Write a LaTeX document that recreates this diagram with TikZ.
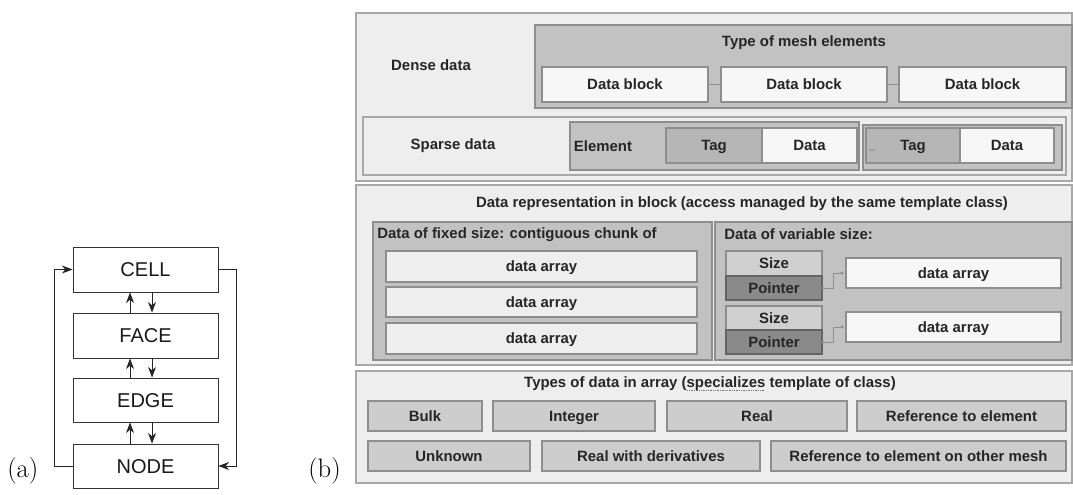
\documentclass[tikz,border=0pt]{standalone}
\usepackage{fontspec}
\newfontfamily\arial{Liberation Sans}
\usetikzlibrary{arrows.meta,fit}
\definecolor{panelbg}{HTML}{EEEEEE}
\definecolor{panelline}{HTML}{A8A8A8}
\definecolor{midgray}{HTML}{C2C2C2}
\definecolor{lightbox}{HTML}{F7F7F7}
\definecolor{taggray}{HTML}{B6B6B6}
\definecolor{sizegray}{HTML}{D0D0D0}
\definecolor{ptrgray}{HTML}{8A8A8A}
\definecolor{typegray}{HTML}{CDCDCD}
\definecolor{boxline}{HTML}{8E8E8E}
\newsavebox{\specbox}
\newcommand{\specword}{\sbox{\specbox}{specializes}\leavevmode\rlap{\usebox{\specbox}}\raisebox{-2.2pt}{\color{black!55}\leaders\hbox to 1.3pt{\hss\rule{0.6pt}{0.6pt}\hss}\hskip\wd\specbox}}
\begin{document}
\begin{tikzpicture}[x=0.75pt,y=-0.75pt,
  afont/.style={font=\arial\fontsize{15}{17}\selectfont, text=black!90, text height=10.8pt, text depth=0pt, inner sep=0},
  abox/.style={draw=black!80, line width=0.6pt, inner sep=0, label={[afont]center:#1}},
  arr/.style={line width=0.7pt, black!85, -{Stealth[length=8pt,width=6pt,inset=2.5pt]}},
  bfont/.style={font=\arial\bfseries\fontsize{11.2}{13}\selectfont, text=black!85},
  lfont/.style={bfont, text height=8.1pt, text depth=0pt, inner sep=0},
  txt/.style={label={[lfont]center:#1}},
  panel/.style={draw=panelline, fill=panelbg, line width=0.9pt, inner sep=0},
  graybox/.style={draw=boxline, fill=midgray, line width=0.9pt, inner sep=0},
  whitebox/.style={draw=boxline, fill=lightbox, line width=0.9pt, inner sep=0, txt=#1},
  tagbox/.style={draw=boxline, fill=taggray, line width=0.9pt, inner sep=0, txt=#1},
  arraybox/.style={draw=boxline, fill=panelbg, line width=0.9pt, inner sep=0, txt=#1},
  sizebox/.style={draw=boxline, fill=sizegray, line width=0.9pt, inner sep=0, txt=#1},
  ptrbox/.style={draw=boxline!70!black, fill=ptrgray, line width=0.9pt, inner sep=0, txt=#1},
  typebox/.style={draw=boxline, fill=typegray, line width=0.9pt, inner sep=0, txt=#1},
  conn/.style={draw=boxline, line width=0.7pt},
  lbl/.style={font=\fontsize{20}{24}\selectfont, inner sep=0}
]
\useasboundingbox (0,0) rectangle (1073,495);

% ---------------- panel (a) ----------------
\node[abox=CELL, fit={(73,247)(218,292)}] (cell) {};
\node[abox=FACE, fit={(73,313)(218,358)}] (face) {};
\node[abox=EDGE, fit={(73,378)(218,422)}] (edge) {};
\node[abox=NODE, fit={(73,444)(218,488)}] (nd) {};

\draw[arr] ([xshift=-11.6pt]face.north) -- ([xshift=-11.6pt]cell.south);
\draw[arr] ([xshift=4.9pt]cell.south) -- ([xshift=4.9pt]face.north);
\draw[arr] ([xshift=-11.6pt]edge.north) -- ([xshift=-11.6pt]face.south);
\draw[arr] ([xshift=4.9pt]face.south) -- ([xshift=4.9pt]edge.north);
\draw[arr] ([xshift=-11.6pt]nd.north) -- ([xshift=-11.6pt]edge.south);
\draw[arr] ([xshift=4.9pt]edge.south) -- ([xshift=4.9pt]nd.north);
\draw[arr] (nd.west) -- ++(-18,0) |- (cell.west);
\draw[arr] (cell.east) -- ++(18,0) |- (nd.east);

\node[lbl, anchor=base west] (la) at (7,477) {(a)};
\node[lbl, anchor=base west] (lb) at (308,477) {(b)};

% ---------------- panel (b): dense / sparse ----------------
\node[panel, fit={(356,13)(1072,181)}] (top) {};
\node[bfont] (dense) at (431,65) {Dense data};
\node[graybox, fit={(535,25)(1072,108)}] (types) {};
\node[bfont] (typestitle) at (804,43) {Type of mesh elements};
\node[whitebox=Data block, fit={(542,67)(708,102)}] (db1) {};
\node[whitebox=Data block, fit={(721,67)(887,102)}] (db2) {};
\node[whitebox=Data block, fit={(899,67)(1066,102)}] (db3) {};
\draw[conn] (db1) -- (db2);
\draw[conn] (db2) -- (db3);

\node[panel, fit={(363,117)(1066,175)}] (sparse) {};
\node[bfont] (sparset) at (453,146) {Sparse data};
\node[graybox, fit={(570,122)(859,170)}] (grp1) {};
\node[lfont] (elem) at (603,146) {Element};
\node[tagbox=Tag, fit={(666,128)(762,163)}] (tag1) {};
\node[whitebox=Data, fit={(762,128)(857,163)}] (dat1) {};
\node[graybox, fit={(863,125)(1062,170)}] (grp2) {};
\node[tagbox=Tag, fit={(866,128)(960,163)}] (tag2) {};
\node[whitebox=Data, fit={(960,128)(1054,163)}] (dat2) {};
\draw[boxline!80, line width=0.8pt] (869,150) -- (875,150);

% ---------------- data representation ----------------
\node[panel, fit={(356,185)(1072,365)}] (repr) {};
\node[bfont] (reprt) at (742,204) {Data representation in block (access managed by the same template class)};

\node[graybox, fit={(373,222)(712,360)}] (fixed) {};
\node[bfont, anchor=west, inner sep=0] (fixedt) at (377,235) {Data of fixed size: contiguous chunk of};
\node[arraybox=data array, fit={(386,251)(697,282)}] (fa1) {};
\node[arraybox=data array, fit={(386,287)(697,317)}] (fa2) {};
\node[arraybox=data array, fit={(386,323)(697,354)}] (fa3) {};

\node[graybox, fit={(715,222)(1072,360)}] (var) {};
\node[bfont, anchor=west, inner sep=0] (vart) at (724,234) {Data of variable size:};
\node[sizebox=Size, fit={(726,251)(822,276)}] (sz1) {};
\node[ptrbox=Pointer, fit={(726,276)(822,300)}] (ptr1) {};
\node[sizebox=Size, fit={(726,306)(822,330)}] (sz2) {};
\node[ptrbox=Pointer, fit={(726,330)(822,354)}] (ptr2) {};
\node[whitebox=data array, fit={(846,258)(1061,288)}] (va1) {};
\node[whitebox=data array, fit={(846,312)(1061,342)}] (va2) {};
\draw[conn, {Circle[length=2.2pt]}-{Circle[length=2.2pt]}] ([xshift=-1pt]ptr1.east) -- ++(12,0) |- ([xshift=-1.5pt]va1.west);
\draw[conn, {Circle[length=2.2pt]}-{Circle[length=2.2pt]}] ([xshift=-1pt]ptr2.east) -- ++(12,0) |- ([xshift=-1.5pt]va2.west);

% ---------------- types of data ----------------
\node[panel, fit={(356,371)(1072,483)}] (typesdata) {};
\node[bfont] (typest) at (710,384) {Types of data in array (\specword\ template of class)};
\node[typebox=Bulk, fit={(368,401)(482,431)}] (bulk) {};
\node[typebox=Integer, fit={(493,401)(655,431)}] (int) {};
\node[typebox=Real, fit={(667,401)(847,431)}] (real) {};
\node[typebox=Reference to element, fit={(857,401)(1066,431)}] (ref) {};
\node[typebox=Unknown, fit={(368,441)(530,471)}] (unk) {};
\node[typebox=Real with derivatives, fit={(542,441)(760,471)}] (rwd) {};
\node[typebox=Reference to element on other mesh, fit={(771,441)(1066,471)}] (refo) {};
\end{tikzpicture}
\end{document}
